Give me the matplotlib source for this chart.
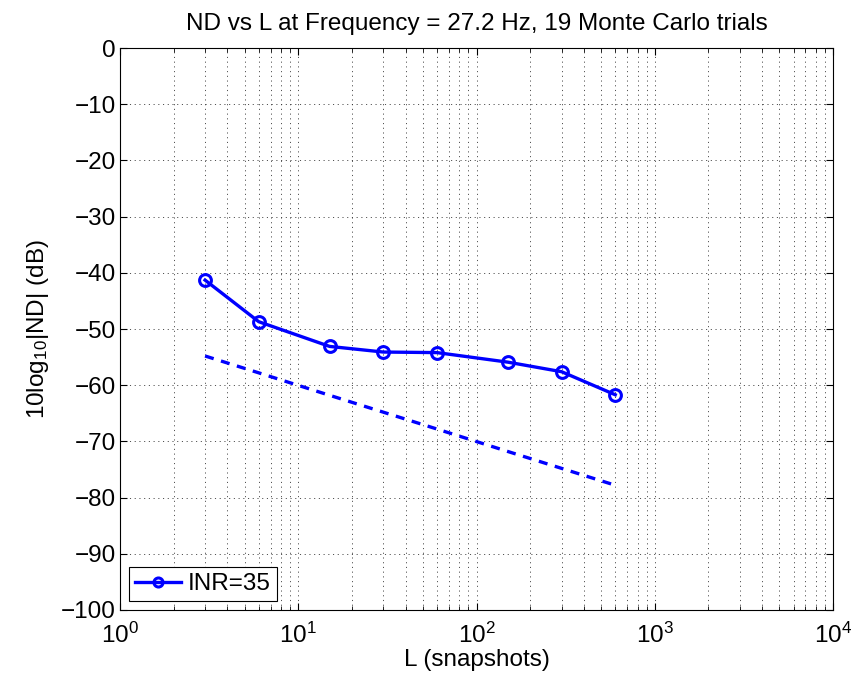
import math
import matplotlib
matplotlib.use("Agg")
import matplotlib.pyplot as plt
from matplotlib.ticker import LogLocator, FixedLocator, NullFormatter, FuncFormatter

plt.rcParams['font.family'] = ['Liberation Sans', 'DejaVu Sans']
plt.rcParams['mathtext.fontset'] = 'custom'
plt.rcParams['mathtext.rm'] = 'Liberation Sans'
plt.rcParams['mathtext.it'] = 'Liberation Sans:italic'
plt.rcParams['lines.scale_dashes'] = False

# Snapshot counts and measured normalized distortion (dB)
snapshots = [3, 6, 15, 30, 60, 150, 300, 600]
nd_db = [-41.3, -48.7, -53.1, -54.1, -54.2, -55.9, -57.6, -61.7]
# Reference slope (-10 dB per decade) evaluated at the same snapshot counts
ref_db = [-54.8, -57.8, -61.8, -64.8, -67.8, -71.8, -74.8, -77.8]

legend_label = "INR=35"
title_text = "ND vs L at Frequency = 27.2 Hz, 19 Monte Carlo trials"
y_ticks = list(range(-100, 1, 10))

FS = 17.5

fig = plt.figure(figsize=(8.56, 6.83), dpi=100)
ax = fig.add_axes([0.1402, 0.1069, 0.833, 0.8228])

blue = '#0000ff'
ax.plot(snapshots, nd_db, '-', color=blue, lw=2.4, marker='o', ms=8.5,
        mfc='none', mec=blue, mew=2.2, label=legend_label, zorder=3)
ax.plot(snapshots, ref_db, color=blue, lw=2.4, dashes=(6.5, 5.5), zorder=3)

ax.set_xscale('log')
ax.set_xlim(1, 1e4)
ax.set_ylim(-100, 0)
ax.yaxis.set_major_locator(FixedLocator(y_ticks))
ax.xaxis.set_major_locator(LogLocator(base=10, numticks=10))
ax.xaxis.set_minor_locator(LogLocator(base=10, subs=range(2, 10), numticks=100))
ax.xaxis.set_minor_formatter(NullFormatter())
ax.xaxis.set_major_formatter(FuncFormatter(lambda v, p: r'$10^{%d}$' % round(math.log10(v))))

dot = (0, (0.8, 2.6))
ax.grid(True, which='major', axis='both', linestyle=dot, color='#333333', lw=0.6)
ax.grid(True, which='minor', axis='x', linestyle=dot, color='#333333', lw=0.6)
ax.set_axisbelow(True)

ax.tick_params(which='both', direction='in', top=True, right=True, labelsize=FS)
ax.tick_params(axis='y', pad=3)
ax.tick_params(axis='x', pad=9)
ax.tick_params(which='major', length=5, width=0.8)
ax.tick_params(which='minor', length=2.8, width=0.6)
for s in ax.spines.values():
    s.set_linewidth(0.8)

ax.set_title(title_text, fontsize=FS, pad=13)
ax.set_xlabel("L (snapshots)", fontsize=FS, labelpad=1)
ax.set_ylabel(r"10log$_{10}$|ND| (dB)", fontsize=FS, labelpad=7)

leg = ax.legend(loc='lower left', fontsize=FS, frameon=True, fancybox=False,
                edgecolor='black', borderaxespad=0.35, handlelength=1.9,
                borderpad=0.25, handletextpad=0.3, framealpha=1)
leg.get_frame().set_linewidth(0.8)
leg.legend_handles[0].set_markersize(6.5)

fig.savefig('out.png', dpi=100)
